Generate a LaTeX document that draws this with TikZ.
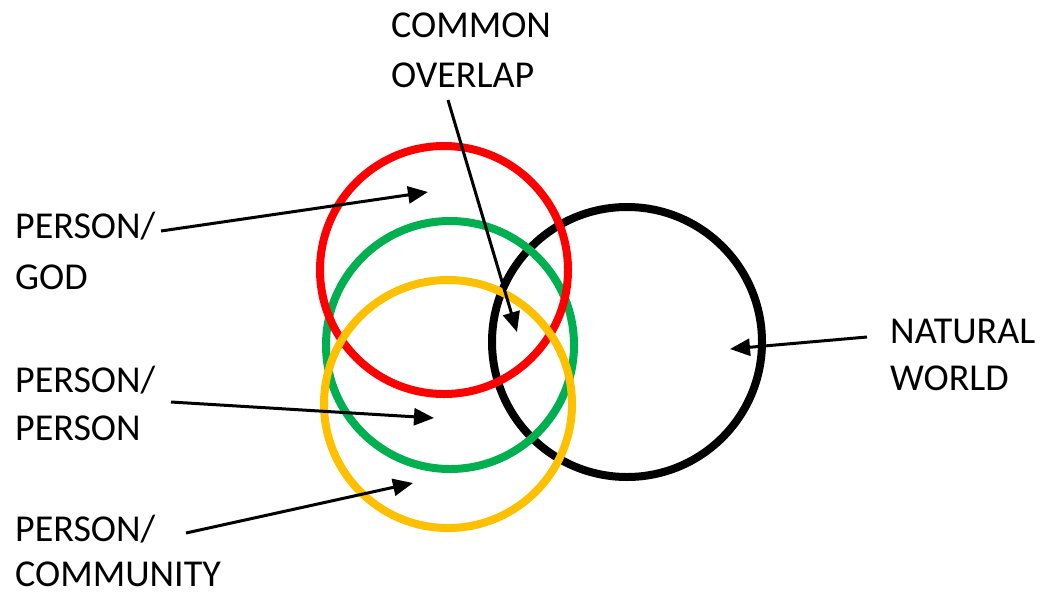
\documentclass[tikz,border=0pt]{standalone}
\usepackage{fontspec}
\setmainfont{Carlito}
\usetikzlibrary{arrows.meta}
\definecolor{cred}{RGB}{255,0,0}
\definecolor{cgreen}{RGB}{0,176,80}
\definecolor{cyellow}{RGB}{255,192,0}
\tikzset{
  ring/.style={line width=8pt},
  lbl/.style={anchor=base west, inner sep=0pt, font=\fontsize{38}{44}\selectfont},
  pointer/.style={line width=3pt, -{Triangle[length=20pt,width=17pt]}},
}
\begin{document}
\begin{tikzpicture}[x=1pt,y=-1pt]
\useasboundingbox (0,0) rectangle (1044,595);
% circles
\node[ring, draw=black, circle, minimum size=270pt, inner sep=0pt] (nat) at (627,342) {};
\node[ring, draw=cgreen, circle, minimum size=248pt, inner sep=0pt] (pp) at (450,345) {};
\node[ring, draw=cred, circle, minimum size=248pt, inner sep=0pt] (pg) at (444,270) {};
\node[ring, draw=cyellow, circle, minimum size=248pt, inner sep=0pt] (pc) at (448,404) {};
% labels
\node[lbl] (god1) at (15,238) {PERSON/};
\node[lbl] (god2) at (15,289) {GOD};
\node[lbl] (com1) at (391,37) {COMMON};
\node[lbl] (com2) at (391,87) {OVERLAP};
\node[lbl] (nat1) at (890,343) {NATURAL};
\node[lbl] (nat2) at (890,390) {WORLD};
\node[lbl] (per1) at (15,392) {PERSON/};
\node[lbl] (per2) at (15,440) {PERSON};
\node[lbl] (cmt1) at (15,541) {PERSON/};
\node[lbl] (cmt2) at (15,586) {COMMUNITY};
% arrow ends
\coordinate (gs) at (161,231);
\coordinate (gt) at (428,192);
\coordinate (cs) at (448,100);
\coordinate (ct) at (517,332);
\coordinate (ns) at (867,337);
\coordinate (nt) at (730,349);
\coordinate (ps) at (171,402);
\coordinate (pt) at (434,418);
\coordinate (ms) at (186,533);
\coordinate (mt) at (413,483);
\draw[pointer] (gs) -- (gt);
\draw[pointer] (cs) -- (ct);
\draw[pointer] (ns) -- (nt);
\draw[pointer] (ps) -- (pt);
\draw[pointer] (ms) -- (mt);
\end{tikzpicture}
\end{document}
